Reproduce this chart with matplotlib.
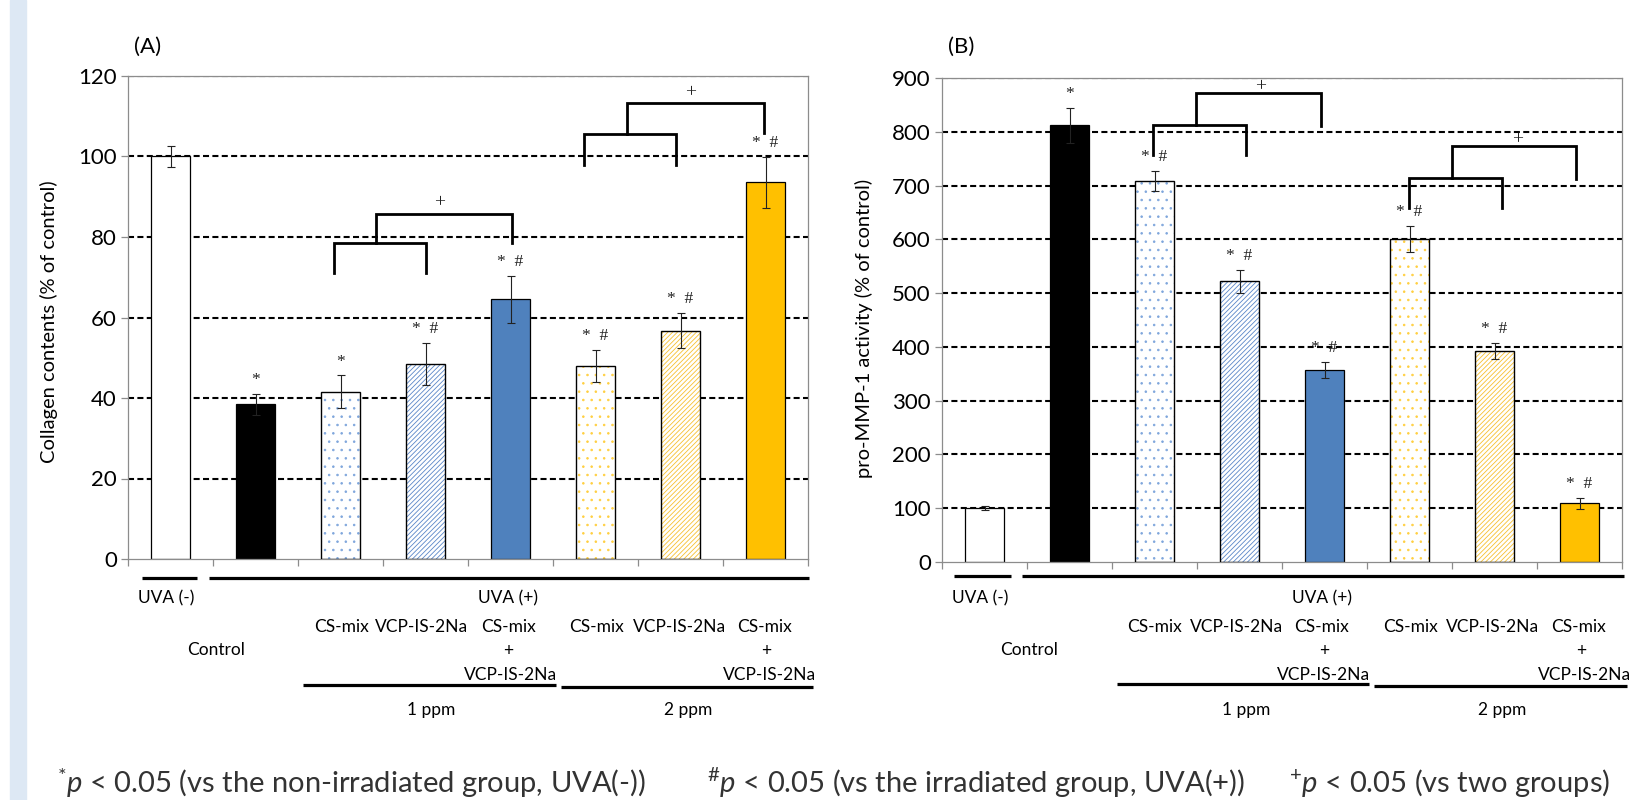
import numpy as np
import matplotlib
matplotlib.use("Agg")
import matplotlib.pyplot as plt
from matplotlib.patches import Rectangle
from matplotlib.transforms import Bbox, TransformedBbox

W, H = 1635, 800
FONT = ['Lato', 'DejaVu Sans']
SERIF = ['Liberation Serif', 'DejaVu Serif']
plt.rcParams['font.family'] = FONT
plt.rcParams['hatch.linewidth'] = 0.6
plt.rcParams['mathtext.fontset'] = 'custom'
plt.rcParams['mathtext.rm'] = 'Lato'
plt.rcParams['mathtext.it'] = 'Lato:italic'

# ---------------- data ----------------
groups = ["UVA(-)", "Control", "CS-mix 1ppm", "VCP-IS-2Na 1ppm", "CS-mix+VCP 1ppm",
          "CS-mix 2ppm", "VCP-IS-2Na 2ppm", "CS-mix+VCP 2ppm"]
collagen = [100, 38.4, 41.6, 48.5, 64.5, 47.9, 56.7, 93.6]
collagen_err = [2.5, 2.7, 4.0, 5.2, 5.8, 4.0, 4.4, 6.3]
mmp1 = [100, 812, 708, 522, 357, 601, 393, 109]
mmp1_err = [4, 33, 19, 21, 15, 24, 15, 10]
sig_A = ["", "*", "*", "* #", "* #", "* #", "* #", "* #"]
sig_B = ["", "*", "* #", "* #", "* #", "* #", "* #", "* #"]
yticks_A = [0, 20, 40, 60, 80, 100, 120]
yticks_B = [0, 100, 200, 300, 400, 500, 600, 700, 800, 900]

BLUE = '#4f81bd'
YEL = '#ffc000'
# (face, hatch colour, hatch)
styles = [('white', None, None), ('black', None, None), ('white', '#7fa6dc', '..'),
          ('white', '#5a86c8', '///////'), (BLUE, None, None), ('white', '#ffcf40', '..'),
          ('white', '#f7c030', '///////'), (YEL, None, None)]

fig = plt.figure(figsize=(W / 100, H / 100), dpi=100)
fig.patches.append(Rectangle((10 / W, 0), 16 / W, 1, transform=fig.transFigure,
                             color='#dde8f4', zorder=-10))


def px(x, y):
    return x / W, 1 - y / H


def ftext(x, y, s, clip_right=None, **kw):
    kw.setdefault('fontsize', 12.5)
    kw.setdefault('ha', 'center')
    kw.setdefault('va', 'center')
    t = fig.text(*px(x, y), s, **kw)
    if clip_right is not None:
        bb = Bbox([[0, 0], [clip_right / W, 1]])
        t.set_clip_box(TransformedBbox(bb, fig.transFigure))
        t.set_clip_on(True)
    return t


def fline(x0, x1, y, lw=2.3):
    fig.add_artist(plt.Line2D([x0 / W, x1 / W], [1 - y / H, 1 - y / H],
                              transform=fig.transFigure, color='black', lw=lw,
                              solid_capstyle='butt'))


def panel(rect, vals, errs, sigs, yticks, sig_off):
    ax = fig.add_axes(rect)
    x = np.arange(len(vals))
    ax.set_xlim(-0.5, len(vals) - 0.5)
    ax.set_ylim(yticks[0], yticks[-1])
    for yv in yticks[1:]:
        ax.axhline(yv, color='black', lw=1.5, ls=(0, (2.9, 1.6)), zorder=1)
    for i, (v, (fc, hc, hatch)) in enumerate(zip(vals, styles)):
        if hatch:
            ax.bar(x[i], v, 0.47, color='white', edgecolor=hc, hatch=hatch,
                   linewidth=0, zorder=2)
            ax.bar(x[i], v, 0.47, fill=False, edgecolor='black', linewidth=1.0, zorder=3)
        else:
            ax.bar(x[i], v, 0.47, color=fc, edgecolor='black', linewidth=0.9, zorder=2)
    ax.errorbar(x, vals, yerr=errs, fmt='none', ecolor='#222222', elinewidth=0.8,
                capsize=3, capthick=0.8, zorder=4)
    for xi, v, e, s in zip(x, vals, errs, sigs):
        if s:
            ax.annotate(s.replace(' ', '  '), (xi, v + e), xytext=(0, sig_off),
                        textcoords='offset points', ha='center', va='center',
                        fontsize=12.5, family=SERIF, color='#222222')
    for sp in ax.spines.values():
        sp.set_color('#8c8c8c')
        sp.set_linewidth(0.9)
    ax.set_xticks(np.arange(-0.5, len(vals), 1))
    ax.set_xticklabels([])
    ax.tick_params(axis='x', direction='out', length=5, color='#8c8c8c', width=0.9)
    ax.set_yticks(yticks)
    ax.set_yticklabels([str(t) for t in yticks], fontsize=16)
    ax.tick_params(axis='y', direction='out', length=5, color='#8c8c8c', width=0.9, pad=3)
    return ax


def bracket(ax, xa, xb, ylow, ytop, xc, yright, yup, yplus, xplus):
    # lower bracket between xa and xb, upper bracket from its middle to xc
    kw = dict(color='black', lw=2.0, clip_on=False, zorder=5, solid_joinstyle='miter')
    ax.plot([xa, xa, xb, xb], [ylow, ytop, ytop, ylow], **kw)
    xm = (xa + xb) / 2 - 0.04
    ax.plot([xm, xm, xc, xc], [ytop, yup, yup, yright], **kw)
    ax.text(xplus, yplus, '+', ha='center', va='center', fontsize=14,
            family=SERIF, color='#222222')


# ---------------- panel A ----------------
axA = panel([128 / W, 1 - 559 / H, 680 / W, 483 / H], collagen, collagen_err, sig_A,
            yticks_A, 10)
bracket(axA, 1.92, 3.0, 71, 78.5, 4.02, 78.5, 85.8, 88.6, 3.16)
bracket(axA, 4.86, 5.95, 98, 105.5, 6.98, 105.8, 113.2, 115.9, 6.12)

# ---------------- panel B ----------------
axB = panel([942 / W, 1 - 562 / H, 680 / W, 484 / H], mmp1, mmp1_err, sig_B,
            yticks_B, 10)
bracket(axB, 1.98, 3.08, 756, 813, 3.96, 810, 872, 884.7, 3.25)
bracket(axB, 4.99, 6.09, 657.5, 714.6, 6.96, 712, 773.8, 785.7, 6.27)

# ---------------- texts ----------------
ftext(148, 47, '(A)', fontsize=16)
ftext(961, 47, '(B)', fontsize=16)
ftext(49, 322, 'Collagen contents (% of control)', rotation=90, fontsize=14.5)
ftext(864, 328, 'pro-MMP-1 activity (% of control)', rotation=90, fontsize=14.5)

# Panel A group labels
fline(142, 197, 578); fline(209, 809, 578)
ftext(166, 598, 'UVA (-)'); ftext(508, 598, 'UVA (+)')
ftext(216, 650, 'Control')
ftext(341, 627, 'CS-mix'); ftext(422, 627, 'VCP-IS-2Na'); ftext(508, 627, 'CS-mix')
ftext(508, 651, '+'); ftext(511, 675, 'VCP-IS-2Na', clip_right=556)
ftext(596, 627, 'CS-mix'); ftext(680, 627, 'VCP-IS-2Na'); ftext(764, 627, 'CS-mix')
ftext(766, 651, '+'); ftext(770, 675, 'VCP-IS-2Na')
fline(303, 556, 685); fline(561, 813, 687)
ftext(431, 710, '1 ppm'); ftext(688, 710, '2 ppm')

# Panel B group labels
fline(954, 1011, 576); fline(1022, 1624, 576)
ftext(980, 598, 'UVA (-)'); ftext(1322, 598, 'UVA (+)')
ftext(1029, 650, 'Control')
ftext(1154, 627, 'CS-mix'); ftext(1237, 627, 'VCP-IS-2Na'); ftext(1321, 627, 'CS-mix')
ftext(1324, 651, '+'); ftext(1324, 675, 'VCP-IS-2Na', clip_right=1369)
ftext(1410, 627, 'CS-mix'); ftext(1493, 627, 'VCP-IS-2Na'); ftext(1578, 627, 'CS-mix')
ftext(1581, 651, '+'); ftext(1585, 675, 'VCP-IS-2Na')
fline(1117, 1369, 684); fline(1374, 1627, 686)
ftext(1246, 710, '1 ppm'); ftext(1502, 710, '2 ppm')

# footnotes
FS = 21
notes = [(57, r'$^{*}\mathit{p}$ < 0.05 (vs the non-irradiated group, UVA(-))'),
         (707, r'$^{\#}\mathit{p}$ < 0.05 (vs the irradiated group, UVA(+))'),
         (1289, r'$^{+}\mathit{p}$ < 0.05 (vs two groups)')]
for x0, s in notes:
    ftext(x0, 783, s, ha='left', fontsize=FS, color='#333333')

fig.savefig('out.png', dpi=100)
